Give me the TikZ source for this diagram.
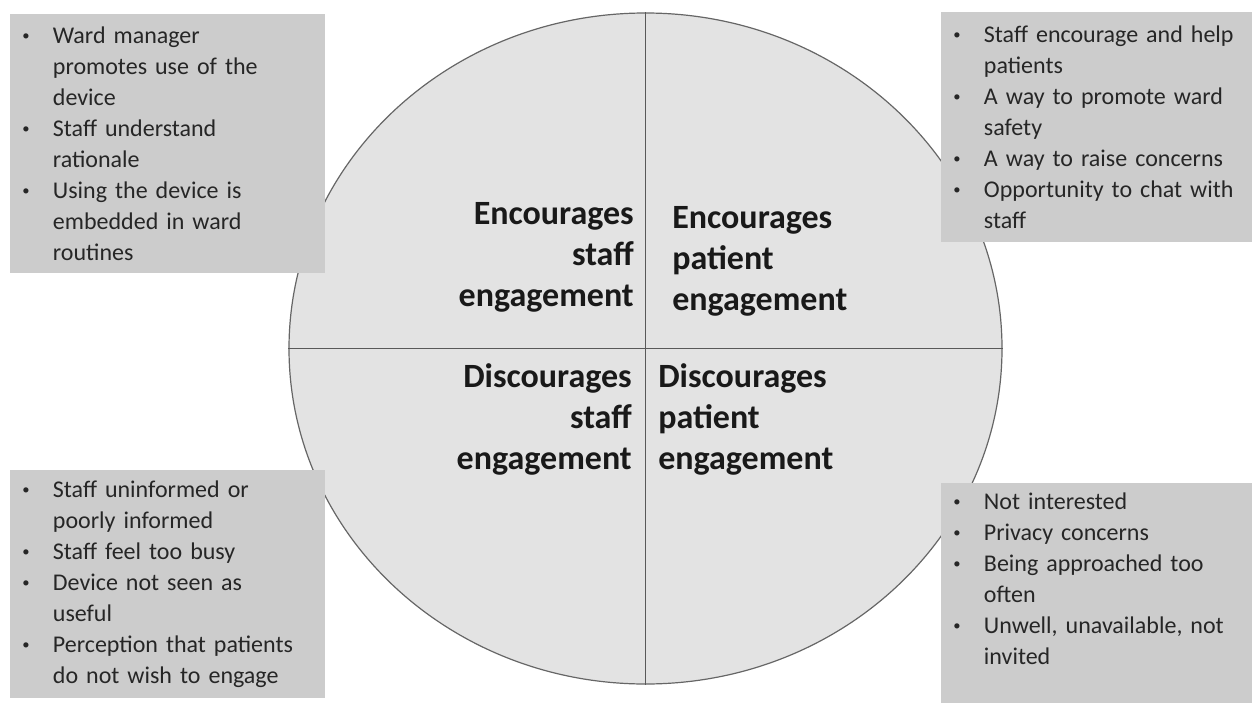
\documentclass[tikz,border=0pt]{standalone}
\usepackage{fontspec}
\setmainfont{Carlito}
\usepackage{tikz}
\usetikzlibrary{shapes.geometric,positioning}

\newcommand{\punkt}{\makebox[23pt][l]{\raisebox{2.2pt}{\fontsize{11}{11}\selectfont\textbullet}}}
\newcommand{\weiter}{\hspace*{23pt}}

\begin{document}
\begin{tikzpicture}[x=0.75pt,y=-0.75pt,
  kasten/.style={fill=gray!40,anchor=north west,inner xsep=9pt,inner ysep=0pt,align=left,text=black!85,font=\fontsize{18}{23.25}\selectfont},
  titel/.style={inner sep=0pt,text=black!90,font=\fontsize{25.5}{30.75}\selectfont\bfseries},
  trennlinie/.style={draw=black!65,line width=0.9pt}]
%Alles in Pixeln (1252 x 703), Mittelpunkt der Ellipse:
  \pgfmathsetmacro{\mx}{645.5}
  \pgfmathsetmacro{\my}{348.5}
\useasboundingbox (0,0) rectangle (1252,703);
\node[ellipse,draw=black!60,line width=0.9pt,fill=gray!22,minimum width=534.75pt,minimum height=503.25pt,inner sep=0pt] (kreis) at (\mx,\my) {};
\foreach \von/\bis in {north/south,west/east}{
\draw[trennlinie] (kreis.\von) -- (kreis.\bis);
}
%Beschriftung der Quadranten
\node[titel,align=right,anchor=east] (foerdertPersonal) at (634,257) {Encourages\\staff\\engagement};
\node[titel,align=left,anchor=west] (foerdertPatient) at (672,261) {Encourages\\patient\\engagement};
\node[titel,align=right,anchor=east] (hemmtPersonal) at (632,419) {Discourages\\staff\\engagement};
\node[titel,align=left,anchor=west] (hemmtPatient) at (658,419) {Discourages\\patient\\engagement};
%Kaesten in den Ecken
\node[kasten,text width=218.25pt,minimum height=194.25pt] (kastenOL) at (10,14) {\punkt Ward manager\\ \weiter promotes use of the\\ \weiter device\\ \punkt Staff understand\\ \weiter rationale\\ \punkt Using the device is\\ \weiter embedded in ward\\ \weiter routines};
\node[kasten,text width=215.25pt,minimum height=172.5pt] (kastenOR) at (941,12) {\punkt Staff encourage and help\\ \weiter patients\\ \punkt A way to promote ward\\ \weiter safety\\ \punkt A way to raise concerns\\ \punkt Opportunity to chat with\\ \weiter staff};
\node[kasten,text width=218.25pt,minimum height=171pt] (kastenUL) at (10,470) {\punkt Staff uninformed or\\ \weiter poorly informed\\ \punkt Staff feel too busy\\ \punkt Device not seen as\\ \weiter useful\\ \punkt Perception that patients\\ \weiter do not wish to engage};
%unten rechts: Text sitzt weiter oben, daher groessere Tiefe
\node[kasten,text width=215.25pt,minimum height=165pt,text depth=138pt] (kastenUR) at (941,483) {\punkt Not interested\\ \punkt Privacy concerns\\ \punkt Being approached too\\ \weiter often\\ \punkt Unwell, unavailable, not\\ \weiter invited};
\end{tikzpicture}
\end{document}
